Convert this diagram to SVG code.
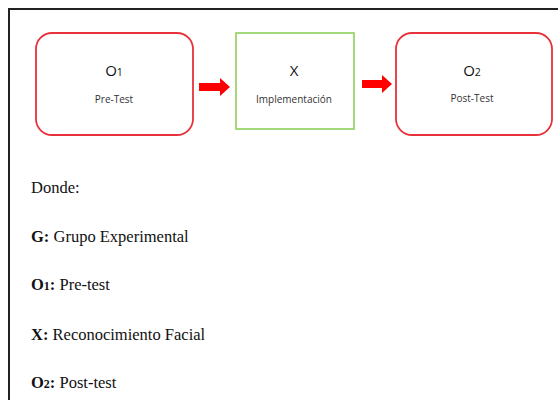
<svg xmlns="http://www.w3.org/2000/svg" width="558" height="400" viewBox="0 0 558 400">
<style>
.obs{fill:#fff;stroke:#e8313a;stroke-width:1.8}
.imp{fill:#fff;stroke:#8fcf5a;stroke-width:1.6}
.big{font-family:"Open Sans","Liberation Sans",sans-serif;font-size:15px;fill:#111;text-anchor:middle}
.small{font-family:"Open Sans","Liberation Sans",sans-serif;font-size:10px;fill:#333;text-anchor:middle}
.leg{font-family:"Liberation Serif","Times New Roman",serif;font-size:16.5px;fill:#111}
.arr{fill:#f00}
</style>
<rect width="558" height="400" fill="#fff"/>
<path d="M9,400 V9 H558" fill="none" stroke="#222" stroke-width="2"/>
<g id="n1">
<rect class="obs" x="36" y="33" width="157" height="102" rx="16"/>
<text class="big" x="114" y="76">O<tspan font-size="10.5">1</tspan></text>
<text class="small" x="114" y="103">Pre-Test</text>
</g>
<g id="n2">
<rect class="imp" x="236" y="33" width="118" height="96"/>
<text class="big" x="294" y="76">X</text>
<text class="small" x="294" y="103" font-size="10.5">Implementación</text>
</g>
<g id="n3">
<rect class="obs" x="396" y="33" width="156" height="102" rx="16"/>
<text class="big" x="472" y="76">O<tspan font-size="10.5">2</tspan></text>
<text class="small" x="472" y="102">Post-Test</text>
</g>
<g id="connectors">
<polygon class="arr" points="199,83 220,83 220,78 230,87 220,96 220,91 199,91"/>
<polygon class="arr" points="362,80 382,80 382,75 392,84 382,93 382,88 362,88"/>
</g>
<g id="legend">
<text class="leg" x="31" y="193">Donde:</text>
<text class="leg" x="31" y="242"><tspan font-weight="bold">G:</tspan> Grupo Experimental</text>
<text class="leg" x="31" y="290"><tspan font-weight="bold">O<tspan font-size="12">1</tspan>:</tspan> Pre-test</text>
<text class="leg" x="31" y="340"><tspan font-weight="bold">X:</tspan> Reconocimiento Facial</text>
<text class="leg" x="31" y="388"><tspan font-weight="bold">O<tspan font-size="12">2</tspan>:</tspan> Post-test</text>
</g>
</svg>
